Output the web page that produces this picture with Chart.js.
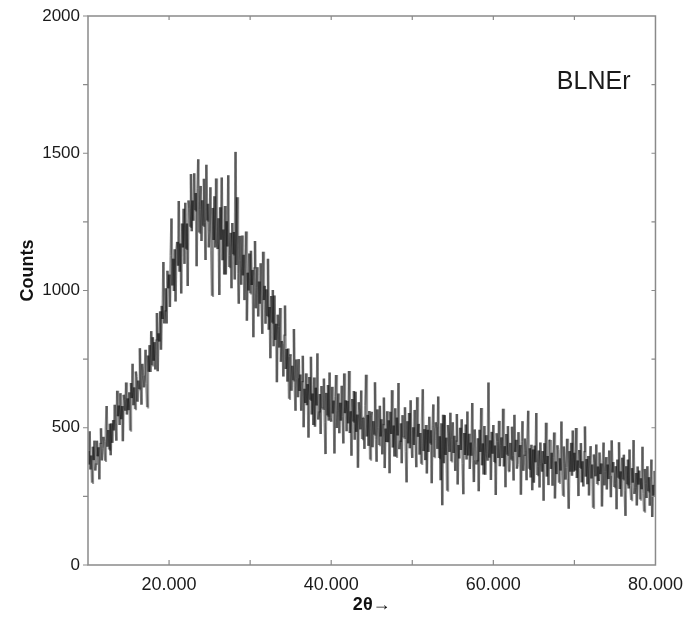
<!DOCTYPE html>
<html>
<head>
<meta charset="utf-8">
<script src="https://cdn.jsdelivr.net/npm/chart.js@4.4.1/dist/chart.umd.min.js"></script>
<style>
  html, body { margin: 0; padding: 0; background: #ffffff; }
  #wrap { width: 684px; height: 619px; }
</style>
</head>
<body>
<div id="wrap"><canvas id="c" width="684" height="619"></canvas></div>
<script>
// ---- data (2θ scan from 10 to 80 in 0.1 steps) ----
const twoThetaStart = 10;
const twoThetaStep = 0.1;
const counts = [
  415,366,487,348,399,300,431,382,453,344, // 10
  370,453,396,429,312,445,498,381,424,467, // 11
  451,380,496,579,431,492,421,515,400,516, // 12
  445,528,490,584,513,453,635,542,581,510, // 13
  626,531,579,451,620,602,562,665,548,607, // 14
  564,629,490,663,608,733,582,647,568,705, // 15
  686,595,672,641,790,639,584,733,690,647, // 16
  687,784,660,575,763,704,801,703,852,728, // 17
  830,744,812,712,822,918,706,844,814,924, // 18
  784,944,896,1104,880,928,1008,880,1072,1008, // 19
  1058,940,1128,1262,1018,1116,998,1150,960,1148, // 20
  1177,1090,1326,1068,1171,989,1244,1157,1298,1097, // 21
  1320,1152,1244,1016,1328,1300,1232,1424,1216,1328, // 22
  1254,1427,1292,1355,1088,1371,1478,1211,1296,1381, // 23
  1180,1329,1236,1407,1248,1111,1458,1255,1316,1157, // 24
  1217,1376,1144,981,1301,1184,1343,1157,1408,1176, // 25
  1151,1263,984,1303,1185,1412,1110,1222,1058,1308, // 26
  1058,1252,1160,1420,1086,1126,1210,1008,1246,1132, // 27
  1213,1040,1505,1093,1340,1062,952,1199,1110,1021, // 28
  1200,1055,1130,965,1100,1215,890,1065,1000,1135, // 29
  990,1145,1020,1075,830,1085,1180,935,1010,1085, // 30
  905,1033,952,1099,961,842,1141,965,1017,879, // 31
  1004,907,1116,857,940,753,980,883,1002,797, // 32
  982,820,879,666,912,869,792,936,740,816, // 33
  806,687,840,945,714,787,668,789,606,759, // 34
  768,635,726,673,860,647,562,749,680,611, // 35
  750,634,694,562,670,762,502,642,590,698, // 36
  582,659,464,685,602,759,548,625,510,683, // 37
  504,646,581,771,530,560,623,477,652,570, // 38
  569,679,518,404,627,545,656,526,701,539, // 39
  522,649,552,599,406,613,692,499,562,625, // 40
  480,591,526,653,540,443,698,553,600,487, // 41
  598,516,707,481,560,398,605,523,634,456, // 42
  631,485,548,354,593,559,494,636,459,537, // 43
  536,423,582,693,468,547,434,561,384,543, // 44
  558,429,524,475,666,457,376,567,502,437, // 45
  580,468,531,403,514,610,353,497,448,560, // 46
  447,527,334,558,477,637,428,508,395,571, // 47
  394,537,472,663,422,453,516,371,546,465, // 48
  464,575,414,301,524,443,554,425,600,439, // 49
  390,502,437,565,452,356,611,467,514,402, // 50
  481,369,528,640,415,495,382,510,333,493, // 51
  412,540,443,491,298,506,585,393,456,520, // 52
  503,423,614,390,469,309,516,218,547,371, // 53
  546,401,464,271,510,477,412,555,378,457, // 54
  520,408,471,343,454,550,293,437,388,500, // 55
  419,531,370,258,481,401,512,384,559,399, // 56
  478,350,446,398,590,382,302,494,430,366, // 57
  382,462,269,493,412,572,363,443,330,506, // 58
  329,473,408,380,665,391,454,310,485,405, // 59
  510,375,435,255,480,450,390,525,360,435, // 60
  465,390,569,359,433,283,477,402,506,341, // 61
  340,445,384,504,398,308,547,412,456,351, // 62
  365,484,393,437,256,450,524,343,402,461, // 63
  415,309,458,562,351,425,319,438,272,421, // 64
  300,435,374,554,328,358,417,282,446,371, // 65
  340,415,234,444,368,518,322,397,291,456, // 66
  455,350,409,289,393,483,242,377,331,436, // 67
  420,300,389,344,523,328,252,432,371,311, // 68
  355,460,310,205,415,340,445,325,490,340, // 69
  409,344,499,317,381,251,419,354,444,301, // 70
  378,286,415,505,322,386,294,397,253,382, // 71
  433,315,366,209,403,376,323,439,295,359, // 72
  306,410,331,370,213,382,446,290,341,393, // 73
  275,366,313,417,325,247,454,337,375,284, // 74
  296,360,203,384,318,447,277,341,249,391, // 75
  312,402,271,179,360,294,384,279,421,290, // 76
  237,353,300,455,259,284,335,217,359,293, // 77
  344,239,316,276,431,261,195,350,297,244, // 78
  360,269,320,216,306,384,175,292,252,343, // 79
  290 // 80
];
const xLabelValues = [20, 40, 60, 80];
const yLabelValues = [0, 500, 1000, 1500, 2000];
const sampleName = 'BLNEr';
const xTitle = '2θ→';
const yTitle = 'Counts';

const points = counts.map((v, i) => ({ x: +(twoThetaStart + i * twoThetaStep).toFixed(2), y: v }));

const FONT = '"Liberation Sans", Arial, Helvetica, sans-serif';
const FRAME = '#8a8a8a';

const framePlugin = {
  id: 'frameTicks',
  afterDraw(chart) {
    const { ctx, chartArea: a, scales: { x, y } } = chart;
    ctx.save();
    ctx.strokeStyle = FRAME;
    ctx.lineWidth = 1.5;
    ctx.strokeRect(a.left, a.top, a.right - a.left, a.bottom - a.top);
    ctx.lineWidth = 1.2;
    ctx.beginPath();
    x.ticks.forEach(t => {
      const px = x.getPixelForValue(t.value);
      if (px <= a.left + 1 || px >= a.right - 1) return;
      ctx.moveTo(px, a.bottom); ctx.lineTo(px, a.bottom - 5);
      ctx.moveTo(px, a.top); ctx.lineTo(px, a.top + 4);
    });
    y.ticks.forEach(t => {
      const py = y.getPixelForValue(t.value);
      ctx.moveTo(a.left, py); ctx.lineTo(a.left - 5, py);
      if (py > a.top + 1 && py < a.bottom - 1) {
        ctx.moveTo(a.right, py); ctx.lineTo(a.right - 4, py);
      }
    });
    ctx.stroke();
    // sample label
    ctx.fillStyle = '#1a1a1a';
    ctx.font = '25px ' + FONT;
    ctx.textAlign = 'right';
    ctx.textBaseline = 'middle';
    ctx.fillText(sampleName, a.right - 25, a.top + 66);
    ctx.restore();
  }
};

new Chart(document.getElementById('c'), {
  type: 'line',
  data: {
    datasets: [{
      data: points,
      borderColor: 'rgba(0,0,0,0.4)',
      borderWidth: 2.5,
      pointRadius: 0,
      tension: 0,
      fill: false,
      borderCapStyle: 'butt',
      borderJoinStyle: 'miter',
      // alternate a hair of colour so every segment is stroked on its own and overlaps darken
      segment: {
        borderColor: c => (c.p0DataIndex % 2 ? 'rgba(0,0,0,0.4)' : 'rgba(1,1,1,0.41)')
      }
    }]
  },
  options: {
    responsive: false,
    animation: false,
    events: [],
    layout: { padding: { top: 16, right: 26, left: 0, bottom: 0 } },
    plugins: { legend: { display: false }, tooltip: { enabled: false } },
    scales: {
      x: {
        type: 'linear',
        min: 10, max: 80,
        grid: { display: false },
        border: { display: false },
        ticks: {
          stepSize: 10,
          autoSkip: false,
          maxRotation: 0,
          padding: 1,
          color: '#1a1a1a',
          font: { family: FONT, size: 18 },
          callback: v => xLabelValues.includes(v) ? v.toFixed(3) : ''
        },
        title: {
          display: true, text: xTitle, color: '#111',
          font: { family: FONT, size: 18, weight: 'bold' },
          padding: { top: 0, bottom: 3 }
        },
        afterFit: s => { s.height = 54; }
      },
      y: {
        min: 0, max: 2000,
        grid: { display: false },
        border: { display: false },
        ticks: {
          stepSize: 250,
          autoSkip: false,
          padding: 0,
          color: '#1a1a1a',
          font: { family: FONT, size: 17 },
          callback: v => yLabelValues.includes(v) ? String(v) : ''
        },
        title: {
          display: true, text: '        ' + yTitle, color: '#111',
          font: { family: FONT, size: 18, weight: 'bold' },
          padding: { top: 17, bottom: 0 }
        },
        afterFit: s => { s.width = 88; }
      }
    }
  },
  plugins: [framePlugin]
});
</script>
</body>
</html>
